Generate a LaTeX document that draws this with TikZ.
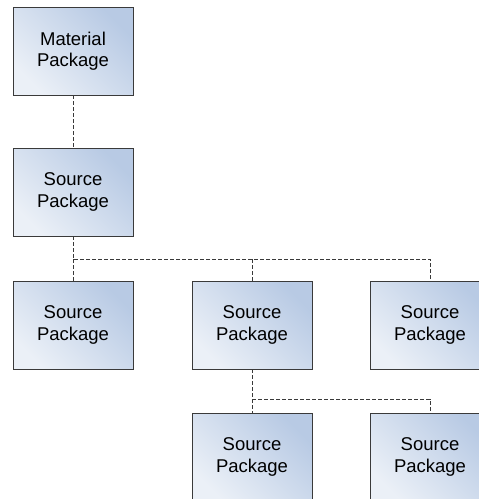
\documentclass[tikz,border=0pt]{standalone}
\usepackage{fontspec}
\setmainfont{Liberation Sans}
\definecolor{boxdark}{HTML}{B8CAE4}
\definecolor{boxlight}{HTML}{EBF0F7}
\definecolor{edge}{HTML}{3A3A3A}
\tikzset{
  pkg/.style={draw=edge, line width=0.85pt, shade, top color=boxdark, bottom color=boxlight,
    shading angle=-45, minimum width=120pt, minimum height=88pt, inner sep=0pt,
    align=center, font=\fontsize{18.5}{21.5}\selectfont, text=black},
  conn/.style={draw=edge, line width=0.8pt, dash pattern=on 4pt off 2pt}
}
\begin{document}
\begin{tikzpicture}[x=1pt, y=-1pt]
  \useasboundingbox (0,0) rectangle (479,499);
  \clip (0,0) rectangle (479,499);

  % tree of packages
  \node[pkg] (mat) at (73,51)  {Material\\Package};
  \node[pkg] (src) at (73,192) {Source\\Package};
  \node[pkg] (c1)  at (73,325)  {Source\\Package};
  \node[pkg] (c2)  at (252,325) {Source\\Package};
  \node[pkg] (c3)  at (430,325) {Source\\Package};
  \node[pkg] (d1)  at (252,457) {Source\\Package};
  \node[pkg] (d2)  at (430,457) {Source\\Package};

  % junction points of the dashed links
  \coordinate (j1) at (73,259);
  \coordinate (j2) at (252,399);

  \draw[conn] (mat.south) -- (src.north);
  \draw[conn] (src.south) -- (j1) -| (c3.north);
  \draw[conn] (j1) -- (c1.north);
  \draw[conn] (c2.north |- j1) -- (c2.north);
  \draw[conn] (c2.south) -- (j2) -| (d2.north);
  \draw[conn] (j2) -- (d1.north);
\end{tikzpicture}
\end{document}
